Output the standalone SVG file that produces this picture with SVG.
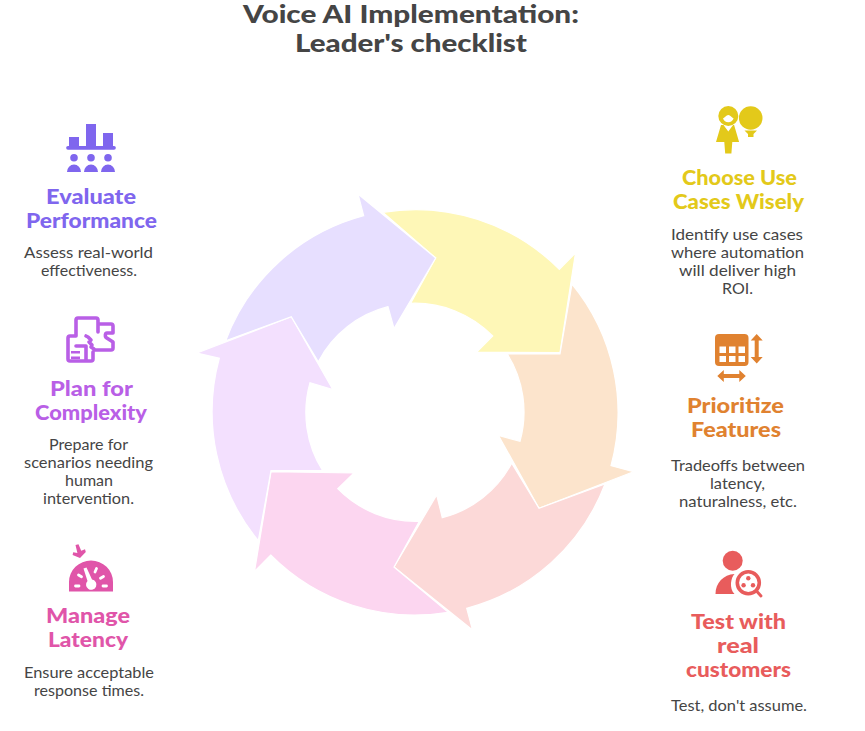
<svg xmlns="http://www.w3.org/2000/svg" width="865" height="731" viewBox="0 0 865 731">
<style>
text{font-family:"Lato","Liberation Sans",sans-serif}
.t{font-size:24px;font-weight:900;fill:#454545}
.h{font-size:20px;font-weight:900}
.b{font-size:15px;fill:#454545}
.arrow{stroke:#fff;stroke-width:1.2;stroke-linejoin:miter}
.w{fill:#fff}
.ws{fill:none;stroke:#fff;stroke-linecap:round}
</style>
<rect width="865" height="731" fill="#fff"/>
<g id="title">
<text class="t" x="243" y="23" textLength="336" lengthAdjust="spacingAndGlyphs">Voice AI Implementation:</text>
<text class="t" x="295" y="52" textLength="232" lengthAdjust="spacingAndGlyphs">Leader's checklist</text>
</g>
<g id="cycle">
<path class="arrow" fill="#fef7b7" d="M382.700 212.300A203 203 0 0 1 559.300 269.300L575.500 253L560 352.700L476.500 352.300L492.700 336A109 109 0 0 0 410.700 303.300L435.700 258Z"/>
<path class="arrow" fill="#fce4cc" d="M572 284A203 203 0 0 1 611 465.700L633.500 471.700L539 508.300L498.500 435.500L520 441.300A109 109 0 0 0 507.300 354L560 354Z"/>
<path class="arrow" fill="#fcd9d8" d="M605 484A203 203 0 0 1 466.700 608.300L472.500 630L394 567L436.700 495L442.300 517.700A109 109 0 0 0 511.700 463.300L539 508.300Z"/>
<path class="arrow" fill="#fcd6f0" d="M448.300 612.300A203 203 0 0 1 270.700 555L254.500 571.500L271 471.700L354 473L337.700 488.700A109 109 0 0 0 419.300 521.300L394 567Z"/>
<path class="arrow" fill="#f3e0fe" d="M258.300 540.700A203 203 0 0 1 219.300 358.300L197 353L291.300 316.700L332.800 389.500L310 382.700A109 109 0 0 0 322.700 470.700L271 470.700Z"/>
<path class="arrow" fill="#e7dfff" d="M225.700 340.700A203 203 0 0 1 363.700 215.700L358 194L435.700 258L394 328.500L388 306.700A109 109 0 0 0 318.300 361.700L291.300 316.700Z"/>
</g>
<g id="evaluate" fill="#7f66ee">
<path d="M69 137h10v9h7v-22h10v22h7v-13h10v13h1a1.800 1.800 0 0 1 0 3.700H68a1.800 1.800 0 0 1 0-3.700h1z"/>
<circle cx="74" cy="157.700" r="3.800"/><circle cx="91" cy="157.700" r="3.800"/><circle cx="108" cy="157.700" r="3.800"/>
<path d="M67 172a7 7.500 0 0 1 14 0zM84 172a7 7.500 0 0 1 14 0zM101 172a7 7.500 0 0 1 14 0z"/>
<text class="h" x="46" y="204" textLength="90" lengthAdjust="spacingAndGlyphs">Evaluate</text>
<text class="h" x="26" y="228" textLength="131" lengthAdjust="spacingAndGlyphs">Performance</text>
<text class="b" x="24" y="258" textLength="129" lengthAdjust="spacingAndGlyphs">Assess real-world</text>
<text class="b" x="41" y="276" textLength="96" lengthAdjust="spacingAndGlyphs">effectiveness.</text>
</g>
<g id="plan" fill="#b95fe6">
<path fill="none" stroke="#b95fe6" stroke-width="3.600" stroke-linejoin="round" stroke-linecap="round" d="M76 336V320a2 2 0 0 1 2-2H96a2 2 0 0 1 2 2V324H111a2 2 0 0 1 2 2V333H107c-2 0-2 3.500-1 4.500l7 4.500V348a2 2 0 0 1-2 2H94M76 336H70a2 2 0 0 0-2 2V359a2 2 0 0 0 2 2H91a2 2 0 0 0 2-2V352M86 336l2 1 3 3-2 2 3 3-1 2 3 2M98 324V332M76 346H86V361"/>
<path d="M71 351h9v2.500h-9zM71 356.500h9v2.500h-9z"/>
<text class="h" x="50" y="396" textLength="83" lengthAdjust="spacingAndGlyphs">Plan for</text>
<text class="h" x="35" y="420" textLength="112" lengthAdjust="spacingAndGlyphs">Complexity</text>
<text class="b" x="49" y="450" textLength="79" lengthAdjust="spacingAndGlyphs">Prepare for</text>
<text class="b" x="24" y="468" textLength="129" lengthAdjust="spacingAndGlyphs">scenarios needing</text>
<text class="b" x="65" y="486" textLength="48" lengthAdjust="spacingAndGlyphs">human</text>
<text class="b" x="43" y="504" textLength="91" lengthAdjust="spacingAndGlyphs">intervention.</text>
</g>
<g id="latency" fill="#e055a9">
<path d="M69 591.500V582A22 21.500 0 0 1 113 582V591.500Z"/>
<path class="ws" stroke-width="2.800" d="M75.500 586h3.500M78.500 575l3 1.800M96.500 568.500l-1.500 3.500M103.500 576.500l-3 1.800M106.500 586h-3.500"/>
<path class="w" d="M83.500 568.500l3-1 5.500 12a5.200 5.200 0 1 1-4.500 1.500z"/>
<path d="M75.500 545l3-.8 2.700 6.500 3.800-1.400 .8 2.800-5.800 6-7.400-3 .6-2.800 4.200 .8z"/>
<text class="h" x="46" y="623" textLength="84" lengthAdjust="spacingAndGlyphs">Manage</text>
<text class="h" x="48" y="647" textLength="80" lengthAdjust="spacingAndGlyphs">Latency</text>
<text class="b" x="24" y="678" textLength="130" lengthAdjust="spacingAndGlyphs">Ensure acceptable</text>
<text class="b" x="34" y="696" textLength="110" lengthAdjust="spacingAndGlyphs">response times.</text>
</g>
<g id="usecases" fill="#e3c91a">
<circle cx="728.300" cy="116" r="10"/>
<path class="w" d="M723 118.500c2-1 3-3.500 5.300-3.500s3.300 2.500 5.300 3.500c-.8 2.300-2.800 3.800-5.300 3.800s-4.500-1.500-5.300-3.800z"/>
<path d="M723.500 125l4.800 6.500 4.800-6.500h1l5 17h-6.800l-.9 11.500h-6.200l-.9-11.500H716l5-17z"/>
<circle cx="750.700" cy="118" r="11.800"/>
<path d="M744.500 130.500h12.500l-3.500 3.500v3h-5.500v-3z"/>
<text class="h" x="682" y="185" textLength="115" lengthAdjust="spacingAndGlyphs">Choose Use</text>
<text class="h" x="673" y="209" textLength="131" lengthAdjust="spacingAndGlyphs">Cases Wisely</text>
<text class="b" x="671" y="240" textLength="132" lengthAdjust="spacingAndGlyphs">Identify use cases</text>
<text class="b" x="671" y="258" textLength="133" lengthAdjust="spacingAndGlyphs">where automation</text>
<text class="b" x="679" y="276" textLength="117" lengthAdjust="spacingAndGlyphs">will deliver high</text>
<text class="b" x="722" y="294" textLength="31" lengthAdjust="spacingAndGlyphs">ROI.</text>
</g>
<g id="features" fill="#e08230">
<rect x="715" y="334" width="33.500" height="32" rx="4"/>
<path class="w" d="M719.500 346.500h6.500v6.500h-6.500zM729 346.500h6.500v6.500h-6.500zM738.500 346.500h6.500v6.500h-6.500zM719.500 356h6.500v6h-6.500zM729 356h6.500v6h-6.500zM738.500 356h6.500v6h-6.500z"/>
<path d="M756.700 334l6 6.500h-4v16.500h4l-6 6.500-6-6.500h4v-16.500h-4z"/>
<path d="M717.300 376l6.500-6v4h15.500v-4l6.500 6-6.500 6v-4h-15.500v4z"/>
<text class="h" x="687" y="413" textLength="97" lengthAdjust="spacingAndGlyphs">Prioritize</text>
<text class="h" x="691" y="437" textLength="90" lengthAdjust="spacingAndGlyphs">Features</text>
<text class="b" x="671" y="471" textLength="134" lengthAdjust="spacingAndGlyphs">Tradeoffs between</text>
<text class="b" x="710" y="489" textLength="55" lengthAdjust="spacingAndGlyphs">latency,</text>
<text class="b" x="679" y="507" textLength="118" lengthAdjust="spacingAndGlyphs">naturalness, etc.</text>
</g>
<g id="test" fill="#e85c5c">
<circle cx="732.700" cy="560.700" r="10"/>
<path d="M715.500 594c0-11 8-19.500 19-20-2 2-3 5-3.500 9-.3 4 .7 8.500 3.500 11z"/>
<circle cx="748.300" cy="582.700" r="11" fill="#fff" stroke="#e85c5c" stroke-width="3.600"/>
<circle cx="748.300" cy="578.300" r="2.200"/><circle cx="743.600" cy="585.200" r="2.200"/><circle cx="753" cy="585.200" r="2.200"/>
<path fill="none" stroke="#e85c5c" stroke-width="3" stroke-linecap="round" d="M756.500 591l4.500 5"/>
<text class="h" x="691" y="629" textLength="95" lengthAdjust="spacingAndGlyphs">Test with</text>
<text class="h" x="717" y="653" textLength="42" lengthAdjust="spacingAndGlyphs">real</text>
<text class="h" x="686" y="677" textLength="105" lengthAdjust="spacingAndGlyphs">customers</text>
<text class="b" x="671" y="711" textLength="136" lengthAdjust="spacingAndGlyphs">Test, don't assume.</text>
</g>
</svg>
